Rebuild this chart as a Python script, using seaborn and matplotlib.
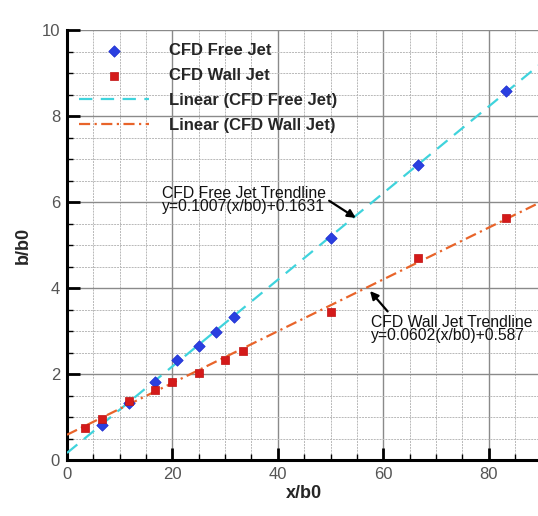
import numpy as np
import pandas as pd
import matplotlib
matplotlib.use("Agg")
import matplotlib.pyplot as plt
import seaborn as sns
from matplotlib.ticker import MultipleLocator

# ---- data ----
free_x = [6.67, 11.67, 16.67, 20.83, 25.0, 28.33, 31.67, 50.0, 66.67, 83.33]
free_y = [0.81, 1.33, 1.82, 2.32, 2.65, 2.98, 3.32, 5.16, 6.86, 8.58]
wall_x = [3.33, 6.67, 11.67, 16.67, 20.0, 25.0, 30.0, 33.33, 50.0, 66.67, 83.33]
wall_y = [0.74, 0.95, 1.38, 1.63, 1.82, 2.02, 2.33, 2.53, 3.44, 4.70, 5.62]
free_fit = (0.1007, 0.1631)   # slope, intercept
wall_fit = (0.0602, 0.587)
labels = ["CFD Free Jet", "CFD Wall Jet", "Linear (CFD Free Jet)", "Linear (CFD Wall Jet)"]

sns.set_theme(style="white")
plt.rcParams['font.family'] = ['Liberation Sans', 'DejaVu Sans']

fig = plt.figure(figsize=(5.38, 5.16), dpi=100)
ax = fig.add_axes([67/538, 56/516, (90*5.27)/538, 430/516])

xlim = (0, 90)
fit_x = np.array(xlim, dtype=float)
free_line = pd.DataFrame({"x": fit_x, "y": free_fit[0]*fit_x + free_fit[1]})
wall_line = pd.DataFrame({"x": fit_x, "y": wall_fit[0]*fit_x + wall_fit[1]})

sns.lineplot(data=free_line, x="x", y="y", ax=ax, color="#3fd3dc", lw=1.6,
             linestyle=(0, (6, 3.8)), label=labels[2], zorder=3)
sns.lineplot(data=wall_line, x="x", y="y", ax=ax, color="#e8642a", lw=1.6,
             linestyle=(0, (5, 2, 1, 2)), label=labels[3], zorder=3)
sns.scatterplot(x=free_x, y=free_y, ax=ax, marker="D", s=34, color="#2a3fe0",
                edgecolor="#1a2ad0", linewidth=0.5, label=labels[0], zorder=4)
sns.scatterplot(x=wall_x, y=wall_y, ax=ax, marker="s", s=28, color="#d41a1a",
                edgecolor="#c01010", linewidth=0.5, label=labels[1], zorder=4)

ax.set_xlim(*xlim)
ax.set_ylim(0, 10)
ax.xaxis.set_major_locator(MultipleLocator(20))
ax.xaxis.set_minor_locator(MultipleLocator(5))
ax.yaxis.set_major_locator(MultipleLocator(2))
ax.yaxis.set_minor_locator(MultipleLocator(0.5))
ax.grid(True, which="major", color="#8a8a8a", lw=1.0)
ax.grid(True, which="minor", color="#b8b8b8", lw=0.7, linestyle=(0, (2, 1)))
ax.set_axisbelow(True)

for s in ["top", "right"]:
    ax.spines[s].set_visible(False)
for s in ["left", "bottom"]:
    ax.spines[s].set_color("black")
    ax.spines[s].set_linewidth(2.2)

ax.tick_params(axis="both", which="major", direction="in", length=9, width=2,
               color="black", labelsize=12, labelcolor="#555555", pad=5)
ax.tick_params(axis="both", which="minor", direction="in", length=4, width=1,
               color="black")
ax.tick_params(axis="both", which="both", left=True, bottom=True)

ax.set_xlabel("x/b0", fontsize=13, fontweight="bold", labelpad=2)
ax.set_ylabel("b/b0", fontsize=13, fontweight="bold", labelpad=7)

# legend
h, l = ax.get_legend_handles_labels()
hd = dict(zip(l, h))
ax.legend([hd[k] for k in labels], labels, loc="upper left",
          bbox_to_anchor=(0.0, 0.997), frameon=False,
          prop={"weight": "bold", "size": 12}, handlelength=4.2,
          handletextpad=1.2, labelspacing=0.6, borderaxespad=0.3)

# annotations
ax.annotate("CFD Free Jet Trendline\ny=0.1007(x/b0)+0.1631",
            xy=(54.8, 5.63), xytext=(18.0, 6.38), fontsize=11.3, color="#111111",
            ha="left", va="top", linespacing=0.9,
            arrowprops=dict(arrowstyle="-|>", color="black", lw=1.6,
                            mutation_scale=12, shrinkA=0, shrinkB=0,
                            relpos=(1.0, 0.55)))
ax.annotate("CFD Wall Jet Trendline\ny=0.0602(x/b0)+0.587",
            xy=(57.5, 3.93), xytext=(57.7, 3.38), fontsize=11.3, color="#111111",
            ha="left", va="top", linespacing=0.9,
            arrowprops=dict(arrowstyle="-|>", color="black", lw=1.6,
                            mutation_scale=12, shrinkA=0, shrinkB=0,
                            relpos=(0.12, 1.0)))

fig.savefig("out.png", dpi=100)
